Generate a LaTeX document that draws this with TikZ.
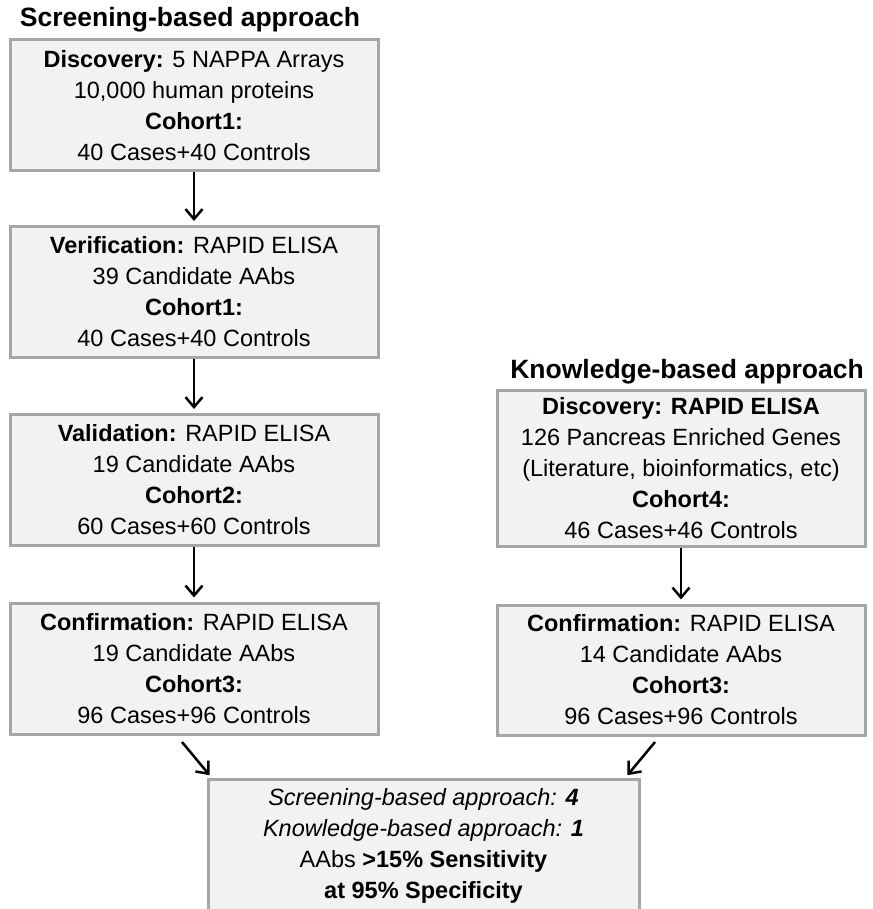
\documentclass[tikz,border=0pt]{standalone}
\usepackage{fontspec}
\setmainfont{Liberation Sans}
\usetikzlibrary{arrows.meta}
\definecolor{boxfill}{HTML}{F2F2F2}
\definecolor{boxline}{HTML}{A6A6A6}
\begin{document}
\begin{tikzpicture}[x=1pt, y=-1pt,
	stage/.style={draw=boxline, line width=3pt, fill=boxfill, minimum width=368pt,
		minimum height=131pt, align=center, inner sep=0pt,
		font=\fontsize{23.5}{31}\selectfont},
	heading/.style={inner sep=0pt, font=\fontsize{26.5}{30}\selectfont\bfseries},
	arr/.style={-{Straight Barb[length=10pt,width=17pt]}, line width=2.5pt, shorten >=4pt}]
	\useasboundingbox (0,0) rectangle (872,909);

	% screening-based column
	\node[heading] (titlescr) at (190,20) {Screening-based approach};
	\node[stage] (discscr) at (194,105.5) {\textbf{Discovery:} 5 NAPPA Arrays\\
		10,000 human proteins\\ \textbf{Cohort1:}\\ 40 Cases+40 Controls};
	\node[stage] (verif) at (194,292) {\textbf{Verification:} RAPID ELISA\\
		39 Candidate AAbs\\ \textbf{Cohort1:}\\ 40 Cases+40 Controls};
	\node[stage] (valid) at (194,480) {\textbf{Validation:} RAPID ELISA\\
		19 Candidate AAbs\\ \textbf{Cohort2:}\\ 60 Cases+60 Controls};
	\node[stage] (confscr) at (194,668.5) {\textbf{Confirmation:} RAPID ELISA\\
		19 Candidate AAbs\\ \textbf{Cohort3:}\\ 96 Cases+96 Controls};

	% knowledge-based column
	\node[heading] (titleknw) at (687,372) {Knowledge-based approach};
	\node[stage, minimum height=156pt] (discknw) at (681,468) {\textbf{Discovery: RAPID ELISA}\\
		126 Pancreas Enriched Genes\\ (Literature, bioinformatics, etc)\\
		\textbf{Cohort4:}\\ 46 Cases+46 Controls};
	\node[stage, minimum height=130pt] (confknw) at (681,670) {\textbf{Confirmation:} RAPID ELISA\\
		14 Candidate AAbs\\ \textbf{Cohort3:}\\ 96 Cases+96 Controls};

	% combined result, cut by the lower edge
	\node[stage, minimum width=431pt, minimum height=134pt] (result) at (423.5,846) {%
		\textit{Screening-based approach:} \textbf{\textit{4}}\\
		\textit{Knowledge-based approach:} \textbf{\textit{1}}\\
		AAbs \textbf{>15\% Sensitivity}\\ \textbf{at 95\% Specificity}};

	\draw[arr] (discscr) -- (verif);
	\draw[arr] (verif) -- (valid);
	\draw[arr] (valid) -- (confscr);
	\draw[arr] (discknw) -- (confknw);

	\coordinate (fromscr) at (182,742);
	\coordinate (fromknw) at (655,742);
	\draw[arr, shorten >=3pt] (fromscr) -- ([xshift=5pt]result.north west);
	\draw[arr, shorten >=3pt] (fromknw) -- ([xshift=-15pt]result.north east);
\end{tikzpicture}
\end{document}
